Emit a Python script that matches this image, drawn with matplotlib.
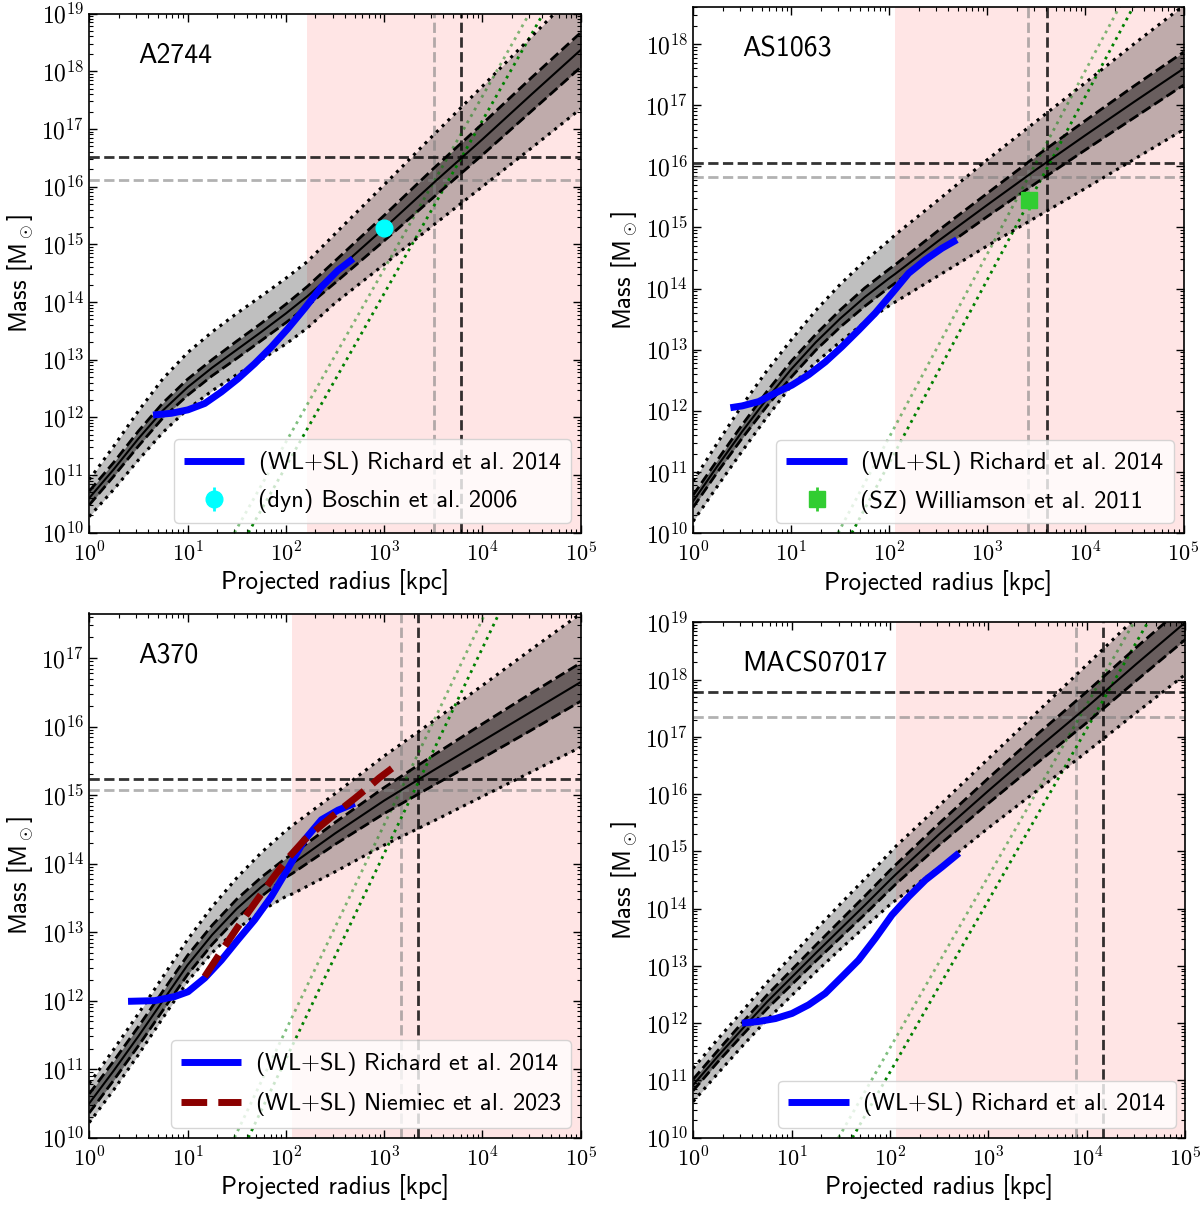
import numpy as np
import matplotlib
matplotlib.use('Agg')
import matplotlib.pyplot as plt
from matplotlib.ticker import LogLocator, FuncFormatter, NullFormatter

plt.rcParams['mathtext.fontset'] = 'cm'
plt.rcParams['font.family'] = ['cmss10', 'DejaVu Sans']
plt.rcParams['axes.unicode_minus'] = False
plt.rcParams['axes.formatter.use_mathtext'] = True

# ---------------- data ----------------
cluster_names = ['A2744', 'AS1063', 'A370', 'MACS07017']

# log10 radius grid [kpc] per panel
logr_A2744 = [0, 0.25, 0.5, 0.75, 1, 1.25, 1.5, 1.75, 2, 2.22, 2.5, 3, 3.5, 4, 4.5, 5]
logr_AS1063 = [0, 0.25, 0.5, 0.75, 1, 1.25, 1.5, 1.75, 2, 2.06, 2.5, 3, 3.5, 4, 4.5, 5]
logr_A370 = [0, 0.25, 0.5, 0.75, 1, 1.25, 1.5, 1.75, 2, 2.07, 2.5, 3, 3.5, 4, 4.5, 5]
logr_MACS = [0, 0.25, 0.5, 0.75, 1, 1.25, 1.5, 1.75, 2, 2.06, 2.5, 3, 3.5, 4, 4.5, 5]

# log10 median mass [Msun]
logM_A2744 = [10.60, 11.10, 11.63, 12.12, 12.52, 12.86, 13.17, 13.48, 13.80, 14.10, 14.52, 15.28, 16.06, 16.82, 17.60, 18.37]
logM_AS1063 = [10.52, 11.10, 11.66, 12.19, 12.68, 13.12, 13.51, 13.86, 14.17, 14.24, 14.78, 15.37, 15.95, 16.51, 17.06, 17.60]
logM_A370 = [10.50, 10.98, 11.48, 12.00, 12.52, 12.96, 13.34, 13.66, 13.94, 14.00, 14.44, 14.92, 15.36, 15.79, 16.22, 16.65]
logM_MACS = [10.92, 11.42, 11.90, 12.37, 12.80, 13.23, 13.65, 14.07, 14.50, 14.60, 15.30, 16.06, 16.80, 17.52, 18.27, 19.00]

# inner (1 sigma) half width [dex]
inner_A2744 = [0.12, 0.12, 0.13, 0.13, 0.14, 0.14, 0.15, 0.15, 0.16, 0.17, 0.19, 0.22, 0.25, 0.27, 0.29, 0.30]
inner_AS1063 = [0.10, 0.10, 0.11, 0.12, 0.13, 0.13, 0.14, 0.15, 0.15, 0.15, 0.17, 0.19, 0.22, 0.24, 0.26, 0.27]
inner_A370 = [0.14, 0.14, 0.14, 0.14, 0.14, 0.14, 0.14, 0.14, 0.14, 0.14, 0.16, 0.19, 0.22, 0.25, 0.27, 0.28]
inner_MACS = [0.10, 0.10, 0.11, 0.12, 0.13, 0.14, 0.15, 0.16, 0.17, 0.17, 0.19, 0.22, 0.25, 0.27, 0.29, 0.30]

# outer band upper / lower widths [dex]
outer_up_A2744 = [0.32, 0.40, 0.48, 0.55, 0.60, 0.62, 0.63, 0.62, 0.61, 0.60, 0.66, 0.75, 0.83, 0.92, 1.00, 1.09]
outer_lo_A2744 = [0.32, 0.35, 0.37, 0.38, 0.38, 0.40, 0.43, 0.48, 0.53, 0.55, 0.54, 0.63, 0.73, 0.82, 0.93, 1.02]
outer_up_AS1063 = [0.33, 0.38, 0.43, 0.46, 0.48, 0.52, 0.56, 0.59, 0.62, 0.64, 0.67, 0.74, 0.79, 0.86, 0.95, 1.03]
outer_lo_AS1063 = [0.33, 0.33, 0.32, 0.30, 0.27, 0.33, 0.38, 0.41, 0.45, 0.46, 0.57, 0.67, 0.78, 0.87, 0.94, 1.00]
outer_up_A370 = [0.29, 0.31, 0.33, 0.35, 0.37, 0.41, 0.45, 0.50, 0.54, 0.56, 0.58, 0.65, 0.72, 0.81, 0.91, 1.00]
outer_lo_A370 = [0.28, 0.28, 0.27, 0.25, 0.24, 0.26, 0.30, 0.35, 0.42, 0.44, 0.56, 0.65, 0.74, 0.81, 0.88, 0.95]
outer_up_MACS = [0.29, 0.30, 0.31, 0.34, 0.37, 0.41, 0.44, 0.46, 0.48, 0.49, 0.50, 0.56, 0.64, 0.74, 0.82, 0.92]
outer_lo_MACS = [0.29, 0.30, 0.30, 0.31, 0.32, 0.33, 0.35, 0.38, 0.43, 0.45, 0.58, 0.65, 0.73, 0.78, 0.85, 0.91]

# start of the extrapolated (pink) region [kpc]
pink_start = [166, 114, 116, 116]

# R500, M500, R200, M200
r500 = [3.25e3, 2.6e3, 1.48e3, 7.8e3]
m500 = [1.3e16, 6.6e15, 1.18e15, 2.2e17]
r200 = [6.1e3, 4.1e3, 2.23e3, 1.45e4]
m200 = [3.3e16, 1.12e16, 1.7e15, 6.0e17]

# density lines (M ~ r^3): end points
dens_r_light = [30.0, 3.0e4]
dens_r_dark = [41.5, 4.15e4]
dens_M = [1e10, 1e19]

# Richard et al. 2014 (WL+SL)
rich_logr_A2744 = [0.649, 0.836, 1.005, 1.175, 1.344, 1.514, 1.683, 1.853, 2.022, 2.192, 2.362, 2.531, 2.684]
rich_logM_A2744 = [12.04, 12.07, 12.13, 12.24, 12.44, 12.67, 12.93, 13.22, 13.54, 13.89, 14.26, 14.55, 14.75]
rich_logr_AS1063 = [0.38, 0.50, 0.668, 0.838, 1.008, 1.178, 1.348, 1.518, 1.688, 1.858, 2.027, 2.197, 2.367, 2.537, 2.69]
rich_logM_AS1063 = [12.05, 12.08, 12.15, 12.29, 12.42, 12.59, 12.80, 13.05, 13.32, 13.60, 13.92, 14.25, 14.47, 14.66, 14.80]
rich_logr_A370 = [0.395, 0.666, 0.87, 1.005, 1.175, 1.344, 1.514, 1.683, 1.853, 2.023, 2.192, 2.362, 2.531, 2.70]
rich_logM_A370 = [11.99, 12.00, 12.06, 12.13, 12.33, 12.59, 12.89, 13.18, 13.52, 13.93, 14.35, 14.64, 14.78, 14.88]
rich_logr_MACS = [0.496, 0.666, 0.836, 1.005, 1.173, 1.342, 1.512, 1.68, 1.85, 2.02, 2.19, 2.36, 2.53, 2.70]
rich_logM_MACS = [12.00, 12.03, 12.08, 12.17, 12.32, 12.52, 12.81, 13.10, 13.48, 13.89, 14.21, 14.50, 14.73, 14.97]

# Niemiec et al. 2023 (A370)
niem_logr = [1.175, 1.344, 1.514, 1.683, 1.853, 2.023, 2.192, 2.362, 2.531, 2.70, 2.87, 2.95, 3.08]
niem_logM = [12.35, 12.72, 13.08, 13.42, 13.76, 14.08, 14.35, 14.56, 14.76, 14.95, 15.15, 15.25, 15.39]

# point measurements
boschin_r, boschin_M, boschin_err = 1.0e3, 1.95e15, 0.3e15
william_r, william_M, william_err = 2.65e3, 2.8e15, 0.9e15

ylims_top = [1e19, 10**18.61, 10**17.65, 1e19]

# ---------------- figure ----------------
W, H = 1200, 1209
fig = plt.figure(figsize=(W / 100, H / 100), dpi=100)
boxes = [(89.2, 580.8, 13.5, 532.7), (693.1, 1183.5, 6.9, 533.0),
         (89.2, 580.8, 613.5, 1137.7), (693.1, 1185.4, 622.3, 1137.7)]

panels = [
    (logr_A2744, logM_A2744, inner_A2744, outer_up_A2744, outer_lo_A2744, rich_logr_A2744, rich_logM_A2744),
    (logr_AS1063, logM_AS1063, inner_AS1063, outer_up_AS1063, outer_lo_AS1063, rich_logr_AS1063, rich_logM_AS1063),
    (logr_A370, logM_A370, inner_A370, outer_up_A370, outer_lo_A370, rich_logr_A370, rich_logM_A370),
    (logr_MACS, logM_MACS, inner_MACS, outer_up_MACS, outer_lo_MACS, rich_logr_MACS, rich_logM_MACS),
]

fmt = FuncFormatter(lambda v, p: r'$10^{%d}$' % int(round(np.log10(v))))

for i, (l, rgt, t, b) in enumerate(boxes):
    ax = fig.add_axes([l / W, 1 - b / H, (rgt - l) / W, (b - t) / H])
    lr, lm, inn, up, lo, rlr, rlm = panels[i]
    r = 10 ** np.array(lr)
    c = np.array(lm)
    inn = np.array(inn); up = np.array(up); lo = np.array(lo)

    ax.axvspan(pink_start[i], 1e5, color='red', alpha=0.1, lw=0, zorder=0)
    ax.fill_between(r, 10 ** (c - lo), 10 ** (c + up), color='black', alpha=0.25, lw=0, zorder=1)
    ax.fill_between(r, 10 ** (c - inn), 10 ** (c + inn), color='black', alpha=0.45, lw=0, zorder=1)
    ax.plot(r, 10 ** c, color='black', lw=1.5, zorder=3)
    ax.plot(r, 10 ** (c + inn), 'k--', lw=2, zorder=3)
    ax.plot(r, 10 ** (c - inn), 'k--', lw=2, zorder=3)
    ax.plot(r, 10 ** (c + up), 'k:', lw=2.2, zorder=3)
    ax.plot(r, 10 ** (c - lo), 'k:', lw=2.2, zorder=3)

    ax.axhline(m500[i], color='gray', ls='--', lw=2, alpha=0.6, zorder=2)
    ax.axvline(r500[i], color='gray', ls='--', lw=2, alpha=0.6, zorder=2)
    ax.axhline(m200[i], color='black', ls='--', lw=2, alpha=0.8, zorder=2)
    ax.axvline(r200[i], color='black', ls='--', lw=2, alpha=0.8, zorder=2)

    ax.plot(dens_r_light, dens_M, ls=':', color='green', lw=2, alpha=0.5, zorder=2)
    ax.plot(dens_r_dark, dens_M, ls=':', color='green', lw=2, zorder=2)

    ax.plot(10 ** np.array(rlr), 10 ** np.array(rlm), color='blue', lw=5, zorder=4,
            solid_capstyle='butt', label='(WL$+$SL) Richard et al. 2014')
    if i == 0:
        ax.errorbar([boschin_r], [boschin_M], yerr=[boschin_err], fmt='o', color='cyan',
                    ms=12, elinewidth=2, zorder=5, label='(dyn) Boschin et al. 2006')
    if i == 1:
        ax.errorbar([william_r], [william_M], yerr=[william_err], fmt='s', color='limegreen',
                    ms=12, elinewidth=2, zorder=5, label='(SZ) Williamson et al. 2011')
    if i == 2:
        ax.plot(10 ** np.array(niem_logr), 10 ** np.array(niem_logM), color='darkred', lw=5,
                ls='--', zorder=4, label='(WL$+$SL) Niemiec et al. 2023')

    ax.set_xscale('log')
    ax.set_yscale('log')
    ax.set_xlim(1, 1e5)
    ax.set_ylim(1e10, ylims_top[i])
    ax.xaxis.set_major_locator(LogLocator(base=10, numticks=20))
    ax.yaxis.set_major_locator(LogLocator(base=10, numticks=20))
    ax.xaxis.set_minor_locator(LogLocator(base=10, subs=np.arange(2, 10), numticks=100))
    ax.yaxis.set_minor_locator(LogLocator(base=10, subs=np.arange(2, 10), numticks=100))
    ax.xaxis.set_major_formatter(fmt)
    ax.yaxis.set_major_formatter(fmt)
    ax.xaxis.set_minor_formatter(NullFormatter())
    ax.yaxis.set_minor_formatter(NullFormatter())
    ax.tick_params(which='both', direction='in', top=True, right=True)
    ax.tick_params(axis='y', which='major', labelsize=17)
    ax.tick_params(axis='x', which='major', pad=6, labelsize=16)
    ax.tick_params(which='major', length=6, width=1)
    ax.tick_params(which='minor', length=3, width=0.8)
    for s in ax.spines.values():
        s.set_linewidth(1.2)

    ax.set_xlabel('Projected radius [kpc]', fontsize=18, labelpad=3)
    ax.set_ylabel(r'Mass [M$_\odot$]', fontsize=18, labelpad=4)
    ax.text(0.1, 0.92, cluster_names[i], transform=ax.transAxes, fontsize=20,
            ha='left', va='center', zorder=6)
    ax.legend(loc='lower right', fontsize=17.5, framealpha=0.8, handlelength=2.5,
              handletextpad=0.55, borderaxespad=0.4)

fig.savefig('out.png', dpi=100)
